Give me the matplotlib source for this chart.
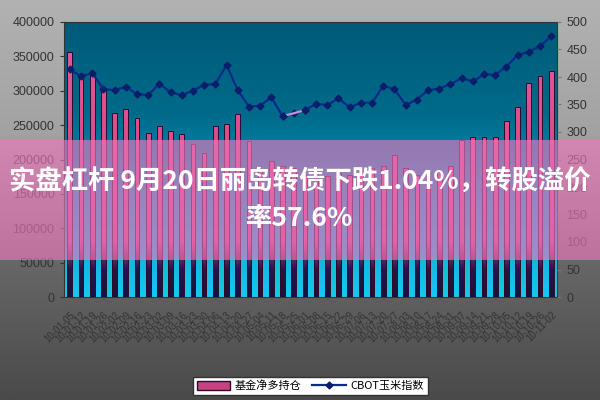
import numpy as np
import matplotlib
matplotlib.use('Agg')
from matplotlib import pyplot as plt
from matplotlib.colors import LinearSegmentedColormap
from matplotlib.patches import Rectangle
from matplotlib.lines import Line2D

plt.rcParams['font.family'] = ['Liberation Sans', 'Noto Sans CJK SC', 'DejaVu Sans']

# weekly dates (labels are blurred in the source, best guess)
dates = ['10-01-05', '10-01-12', '10-01-19', '10-01-26', '10-02-02', '10-02-09',
         '10-02-16', '10-02-23', '10-03-02', '10-03-09', '10-03-16', '10-03-23',
         '10-03-30', '10-04-06', '10-04-13', '10-04-20', '10-04-27', '10-05-04',
         '10-05-11', '10-05-18', '10-05-25', '10-06-01', '10-06-08', '10-06-15',
         '10-06-22', '10-06-29', '10-07-06', '10-07-13', '10-07-20', '10-07-27',
         '10-08-03', '10-08-10', '10-08-17', '10-08-24', '10-08-31', '10-09-07',
         '10-09-14', '10-09-21', '10-09-28', '10-10-05', '10-10-12', '10-10-19',
         '10-10-26', '10-11-02']

# fund net long positions (left axis)
net_long = [356000, 321000, 323000, 301000, 268000, 274000, 261000, 238000, 249000,
            241000, 237000, 223000, 210000, 248000, 252000, 266000, 227000, 185000,
            198000, 190000, 187000, 178000, 180000, 176000, 180000, 178000, 183000,
            187000, 190000, 206000, 188000, 178000, 180000, 182000, 190000, 228000,
            232000, 233000, 233000, 256000, 277000, 311000, 321000, 329000]

# CBOT corn index (right axis)
corn_index = [414, 401, 407, 378, 376, 382, 369, 367, 388, 372, 367, 375, 386, 387,
              422, 376, 346, 348, 363, 329, 334, 340, 351, 349, 361, 345, 353, 353,
              384, 378, 349, 359, 376, 379, 387, 398, 392, 405, 404, 419, 440, 446,
              456, 474]

legend_labels = ['基金净多持仓', 'CBOT玉米指数']
banner_text = '实盘杠杆 9月20日丽岛转债下跌1.04%，转股溢价\n率57.6%'

x = np.arange(len(dates))

fig = plt.figure(figsize=(6, 4), dpi=100)

# grey page background, light at top, dark at bottom
page_cmap = LinearSegmentedColormap.from_list('page', ['#4a4a4a', '#666666', '#a2a2a2', '#b2b2b2'])
bg = fig.add_axes([0, 0, 1, 1], zorder=-10)
bg.imshow(np.linspace(0, 1, 256).reshape(-1, 1), cmap=page_cmap, origin='lower',
          aspect='auto', extent=[0, 1, 0, 1])
bg.set_xlim(0, 1)
bg.set_ylim(0, 1)
bg.axis('off')

ax = fig.add_axes([0.107, 0.2575, 0.821, 0.6875])

# teal plot area gradient
plot_cmap = LinearSegmentedColormap.from_list('plot', ['#18c8ee', '#0a9ec4', '#006a8a', '#005a78'])
ax.imshow(np.linspace(0, 1, 256).reshape(-1, 1), cmap=plot_cmap, origin='lower',
          aspect='auto', extent=[-0.5, len(x) - 0.5, 0, 400000], zorder=0)

# bars with a dark-to-pink gradient
bar_cmap = LinearSegmentedColormap.from_list('bar', [(0, '#1a1238'), (0.1, '#2a1448'),
                                                     (0.2, '#c8427f'), (1, '#e85a98')])
bars = ax.bar(x, net_long, width=0.42, color='none', edgecolor='#2a0c30', linewidth=0.7, zorder=2)
for b in bars:
    im = ax.imshow(np.linspace(0, 1, 256).reshape(-1, 1), cmap=bar_cmap, origin='lower',
                   aspect='auto', extent=[-0.5, len(x) - 0.5, 0, 400000], zorder=1.5)
    im.set_clip_path(b)

ax.set_xlim(-0.5, len(x) - 0.5)
ax.set_ylim(0, 400000)
ax.set_yticks(np.arange(0, 400001, 50000))
ax.tick_params(axis='y', labelsize=9, labelcolor='#333333', length=3, color='#333333', pad=4)
ax.set_xticks(x)
ax.set_xticklabels(dates, rotation=45, ha='right', rotation_mode='anchor',
                   fontsize=7, color='#333333')
ax.tick_params(axis='x', length=0, pad=9)
for s in ax.spines.values():
    s.set_color('#333333')
    s.set_linewidth(0.8)

ax2 = ax.twinx()
ax2.plot(x, corn_index, color='#0c2a8a', linewidth=1.6, marker='D', markersize=3.5,
         markerfacecolor='#0a1e6a', markeredgecolor='#0a1e6a', zorder=3)
# odd light segment in the source
ax2.plot(x[19:22], corn_index[19:22], color='#c890d8', linewidth=1.6, zorder=4)
ax2.plot([x[19], x[21]], [corn_index[19], corn_index[21]], linestyle='none', marker='D',
         markersize=3.5, color='#0a1e6a', zorder=5)
ax2.set_ylim(0, 500)
ax2.set_yticks(np.arange(0, 501, 50))
ax2.tick_params(axis='y', labelsize=9, labelcolor='#333333', length=3, color='#777777', pad=4)
for s in ax2.spines.values():
    s.set_visible(False)

handles = [Rectangle((0, 0), 1, 1, facecolor='#c8427f', edgecolor='#2a0c30', linewidth=1),
           Line2D([], [], color='#0c2a8a', linewidth=1.6, marker='D', markersize=3.5,
                  markerfacecolor='#0a1e6a', markeredgecolor='#0a1e6a')]
fig.legend(handles, legend_labels, loc='center', bbox_to_anchor=(0.517, 0.035), ncol=2,
           frameon=True, fancybox=False, edgecolor='#333333', framealpha=1,
           prop={'family': ['Noto Sans CJK SC', 'DejaVu Sans'], 'size': 8},
           handlelength=3, handleheight=0.8, columnspacing=1.0, borderpad=0.35,
           handletextpad=0.4)

# pink banner with headline
fig.add_artist(Rectangle((0, 0.35), 1, 0.30, transform=fig.transFigure,
                         facecolor='#f078be', alpha=0.62, edgecolor='none', zorder=10))
fig.text(0.5, 0.50, banner_text, ha='center', va='center', color='white', fontsize=19,
         fontweight='bold', family=['Noto Sans CJK SC', 'DejaVu Sans'],
         linespacing=1.45, zorder=11)

fig.savefig('out.png', dpi=100)
